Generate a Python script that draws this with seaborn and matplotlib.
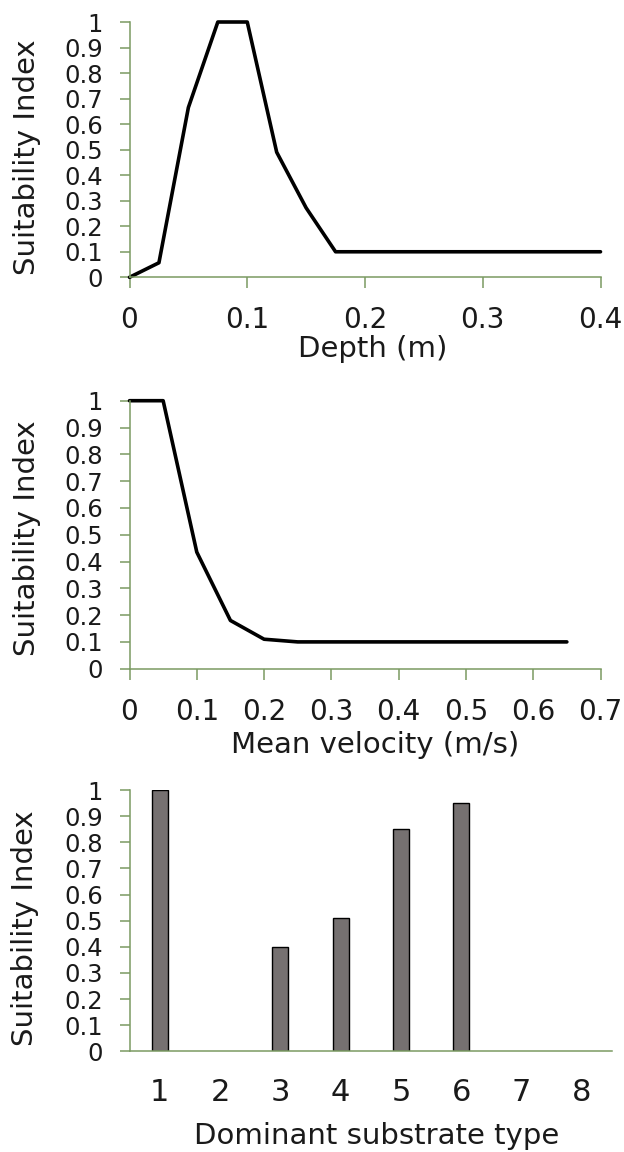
import matplotlib
matplotlib.use("Agg")
import matplotlib.pyplot as plt
import seaborn as sns
import pandas as pd
from matplotlib.ticker import FuncFormatter

# ---- data ----
depth_m = [0.0, 0.025, 0.05, 0.075, 0.1, 0.125, 0.15, 0.175, 0.4]
depth_si = [0.0, 0.057, 0.665, 1.0, 1.0, 0.49, 0.272, 0.1, 0.1]

velocity_ms = [0.0, 0.05, 0.1, 0.15, 0.2, 0.25, 0.65]
velocity_si = [1.0, 1.0, 0.435, 0.18, 0.11, 0.1, 0.1]

substrate_types = ["1", "2", "3", "4", "5", "6", "7", "8"]
substrate_si = [1.0, 0.0, 0.4, 0.51, 0.85, 0.95, 0.0, 0.0]

y_label = "Suitability Index"
x_labels = ["Depth (m)", "Mean velocity (m/s)", "Dominant substrate type"]

# ---- style ----
sns.set_style("ticks")
plt.rcParams["font.family"] = ["DejaVu Sans"]
AXC = "#7a9a62"
TXT = "#1a1a1a"
YTICK_FS = 17.5
XTICK_FS = 20
LAB_FS = 21

fig = plt.figure(figsize=(6.24, 11.52), dpi=100)
left = 129.5 / 624
ax1 = fig.add_axes([left, 1 - 277.3 / 1152, 471 / 624, 255.3 / 1152])
ax2 = fig.add_axes([left, 1 - 668.7 / 1152, 471 / 624, 268.0 / 1152])
ax3 = fig.add_axes([left, 1 - 1051.3 / 1152, 482.5 / 624, 261.3 / 1152])

fmt = FuncFormatter(lambda v, p: f"{v:g}")
yticks = [i / 10 for i in range(11)]


def style(ax, xlab, xlab_pos, ylab_y, xtick_len=8, xpad=13, xfs=XTICK_FS):
    sns.despine(ax=ax)
    for s in ("left", "bottom"):
        ax.spines[s].set_color(AXC)
        ax.spines[s].set_linewidth(1.1)
    ax.set_ylim(0, 1)
    ax.set_yticks(yticks)
    ax.yaxis.set_major_formatter(fmt)
    ax.tick_params(axis="y", colors=AXC, length=7, width=1.1, pad=12,
                   labelsize=YTICK_FS, labelcolor=TXT)
    ax.tick_params(axis="x", colors=AXC, length=xtick_len, width=1.1, pad=xpad,
                   labelsize=xfs, labelcolor=TXT)
    ax.set_ylabel(y_label, fontsize=LAB_FS, color=TXT)
    ax.yaxis.set_label_coords(-0.187, ylab_y)
    ax.set_xlabel(xlab, fontsize=LAB_FS, color=TXT, va="top")
    ax.xaxis.set_label_coords(xlab_pos[0], xlab_pos[1])


# Panel 1: depth
sns.lineplot(x=depth_m, y=depth_si, ax=ax1, sort=False, estimator=None,
             color="black", linewidth=2.6, clip_on=False)
ax1.set_xlim(0, 0.4)
ax1.set_xticks([0, 0.1, 0.2, 0.3, 0.4])
ax1.xaxis.set_major_formatter(fmt)
style(ax1, x_labels[0], (0.516, -0.226), 0.47)

# Panel 2: velocity
sns.lineplot(x=velocity_ms, y=velocity_si, ax=ax2, sort=False, estimator=None,
             color="black", linewidth=2.6, clip_on=False)
ax2.set_xlim(0, 0.7)
ax2.set_xticks([i / 10 for i in range(8)])
ax2.xaxis.set_major_formatter(fmt)
style(ax2, x_labels[1], (0.522, -0.232), 0.487)

# Panel 3: substrate
df = pd.DataFrame({"type": substrate_types, "si": substrate_si})
sns.barplot(data=df, x="type", y="si", order=substrate_types, ax=ax3,
            width=0.265, color="#767171", saturation=1,
            edgecolor="black", linewidth=1.0)
for p in ax3.patches:
    if p.get_height() == 0:
        p.set_linewidth(0)
ax3.set_xlim(-0.5, 7.5)
style(ax3, x_labels[2], (0.513, -0.272), 0.473, xtick_len=0, xpad=19,
      xfs=22)

fig.savefig("out.png", dpi=100, facecolor="white")
